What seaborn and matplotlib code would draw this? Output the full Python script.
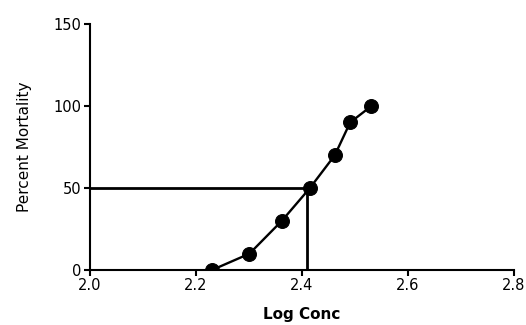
import matplotlib
matplotlib.use("Agg")
import matplotlib.pyplot as plt
import seaborn as sns

# log10 of the concentrations and the observed mortality
log_conc = [2.230, 2.301, 2.362, 2.415, 2.462, 2.491, 2.531]
mortality = [0, 10, 30, 50, 70, 90, 100]

lc50_x = 2.41
lc50_y = 50

x_ticks = [2.0, 2.2, 2.4, 2.6, 2.8]
y_ticks = [0, 50, 100, 150]

sns.set_theme(style="ticks")
plt.rcParams["font.family"] = ["DejaVu Sans"]
plt.rcParams["text.color"] = "black"
plt.rcParams["axes.labelcolor"] = "black"

fig = plt.figure(figsize=(5.26, 3.25), dpi=100)
ax = fig.add_axes([0.171, 0.169, 0.806, 0.757])

sns.lineplot(x=log_conc, y=mortality, ax=ax, color="black", linewidth=1.7,
             marker="o", markersize=10, markeredgecolor="black", zorder=3)

# LC50 guide lines
ax.plot([x_ticks[0], lc50_x], [lc50_y, lc50_y], color="black", linewidth=2)
ax.plot([lc50_x, lc50_x], [0, lc50_y], color="black", linewidth=2)

ax.set_xlim(2.0, 2.8)
ax.set_ylim(0, 150)
ax.set_xticks(x_ticks)
ax.set_xticklabels([f"{t:.1f}" for t in x_ticks])
ax.set_yticks(y_ticks)

sns.despine(ax=ax)
for side in ["left", "bottom"]:
    ax.spines[side].set_linewidth(1.5)
    ax.spines[side].set_color("black")
ax.tick_params(axis="both", direction="out", length=4, width=1.5,
               colors="black", labelcolor="black", labelsize=10.5, pad=2)

ax.set_xlabel("Log Conc", fontsize=11, fontweight="bold", color="black")
ax.set_ylabel("Percent Mortality", fontsize=11, color="black")
ax.xaxis.set_label_coords(0.5, -0.18)
ax.xaxis.label.set_va("center")
ax.yaxis.set_label_coords(-0.155, 0.5)
ax.yaxis.label.set_va("center")

fig.savefig("out.png", dpi=100)
plt.close(fig)
